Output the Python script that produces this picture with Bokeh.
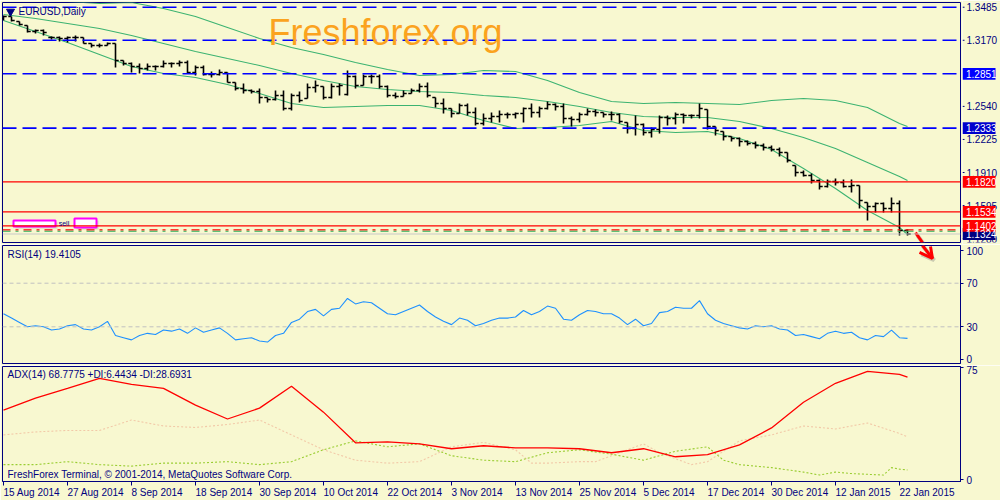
from bokeh.plotting import figure
from bokeh.layouts import column, row
from bokeh.models import (Range1d, FixedTicker, PrintfTickFormatter, Label,
                          ColumnDataSource, Span)
from bokeh.embed import file_html
from bokeh.resources import INLINE
from bokeh.core.properties import value

# ---------------- data ----------------
bar_high = [1.3406,1.3397,1.3349,1.3311,1.3273,1.3273,1.3206,1.3206,1.3206,1.3215,
            1.3196,1.3139,1.3139,1.3149,1.3139,1.2977,1.2958,1.2949,1.2949,1.2930,
            1.2977,1.2958,1.2977,1.2977,1.2930,1.2930,1.2872,1.2891,1.2863,1.2768,
            1.2758,1.2701,1.2710,1.2625,1.2691,1.2691,1.2663,1.2682,1.2758,1.2787,
            1.2729,1.2758,1.2758,1.2882,1.2834,1.2844,1.2844,1.2844,1.2739,1.2672,
            1.2691,1.2710,1.2758,1.2768,1.2625,1.2615,1.2520,1.2567,1.2567,1.2529,
            1.2472,1.2482,1.2501,1.2482,1.2482,1.2529,1.2567,1.2539,1.2586,1.2567,
            1.2567,1.2444,1.2482,1.2520,1.2510,1.2482,1.2491,1.2472,1.2386,1.2453,
            1.2377,1.2339,1.2453,1.2453,1.2482,1.2472,1.2463,1.2567,1.2510,1.2348,
            1.2301,1.2253,1.2243,1.2215,1.2205,1.2186,1.2167,1.2148,1.2100,1.1977,
            1.1929,1.1900,1.1843,1.1843,1.1853,1.1843,1.1843,1.1786,1.1624,1.1624,
            1.1624,1.1672,1.1643,1.1367]
bar_low = [1.3358,1.3349,1.3311,1.3244,1.3235,1.3215,1.3177,1.3158,1.3149,1.3158,
           1.3139,1.3101,1.3101,1.3120,1.2910,1.2930,1.2863,1.2853,1.2882,1.2882,
           1.2910,1.2910,1.2920,1.2853,1.2834,1.2834,1.2815,1.2834,1.2768,1.2691,
           1.2663,1.2663,1.2567,1.2577,1.2596,1.2501,1.2501,1.2577,1.2615,1.2672,
           1.2606,1.2615,1.2644,1.2644,1.2710,1.2739,1.2758,1.2710,1.2625,1.2615,
           1.2634,1.2663,1.2672,1.2625,1.2529,1.2472,1.2434,1.2472,1.2453,1.2358,
           1.2358,1.2386,1.2386,1.2424,1.2424,1.2386,1.2434,1.2434,1.2510,1.2501,
           1.2377,1.2348,1.2386,1.2453,1.2444,1.2434,1.2405,1.2377,1.2282,1.2262,
           1.2262,1.2243,1.2282,1.2358,1.2367,1.2377,1.2424,1.2424,1.2320,1.2262,
           1.2215,1.2205,1.2158,1.2167,1.2139,1.2120,1.2110,1.2062,1.2005,1.1872,
           1.1872,1.1805,1.1748,1.1767,1.1786,1.1767,1.1719,1.1567,1.1452,1.1529,
           1.1529,1.1529,1.1309,1.1309]
bar_open = [1.3377,1.3397,1.3349,1.3311,1.3254,1.3263,1.3196,1.3196,1.3187,1.3196,
            1.3196,1.3139,1.3120,1.3120,1.3139,1.2977,1.2949,1.2920,1.2901,1.2920,
            1.2920,1.2949,1.2949,1.2958,1.2863,1.2910,1.2844,1.2844,1.2863,1.2768,
            1.2710,1.2691,1.2682,1.2625,1.2606,1.2644,1.2520,1.2644,1.2615,1.2720,
            1.2729,1.2625,1.2729,1.2653,1.2825,1.2739,1.2825,1.2825,1.2729,1.2644,
            1.2634,1.2663,1.2691,1.2729,1.2625,1.2567,1.2520,1.2472,1.2548,1.2482,
            1.2377,1.2424,1.2444,1.2463,1.2463,1.2472,1.2520,1.2482,1.2520,1.2558,
            1.2539,1.2424,1.2415,1.2463,1.2491,1.2482,1.2463,1.2463,1.2386,1.2329,
            1.2367,1.2291,1.2320,1.2434,1.2424,1.2463,1.2453,1.2453,1.2510,1.2348,
            1.2301,1.2253,1.2234,1.2205,1.2186,1.2167,1.2148,1.2129,1.2100,1.1977,
            1.1910,1.1881,1.1834,1.1776,1.1824,1.1815,1.1776,1.1786,1.1624,1.1586,
            1.1614,1.1567,1.1614,1.1357]
bar_close = [1.3397,1.3358,1.3320,1.3254,1.3263,1.3244,1.3196,1.3187,1.3196,1.3196,
             1.3139,1.3120,1.3120,1.3139,1.2977,1.2949,1.2920,1.2901,1.2920,1.2920,
             1.2949,1.2949,1.2958,1.2863,1.2910,1.2844,1.2844,1.2863,1.2768,1.2710,
             1.2691,1.2682,1.2625,1.2606,1.2644,1.2520,1.2644,1.2596,1.2720,1.2739,
             1.2625,1.2729,1.2739,1.2825,1.2739,1.2825,1.2825,1.2729,1.2644,1.2634,
             1.2663,1.2691,1.2729,1.2644,1.2567,1.2520,1.2472,1.2548,1.2482,1.2377,
             1.2424,1.2444,1.2463,1.2463,1.2472,1.2520,1.2482,1.2520,1.2558,1.2539,
             1.2424,1.2415,1.2463,1.2491,1.2482,1.2463,1.2463,1.2396,1.2329,1.2367,
             1.2291,1.2320,1.2434,1.2424,1.2463,1.2453,1.2453,1.2520,1.2348,1.2310,
             1.2253,1.2234,1.2205,1.2186,1.2167,1.2148,1.2129,1.2100,1.2024,1.1910,
             1.1881,1.1834,1.1776,1.1824,1.1815,1.1776,1.1786,1.1643,1.1586,1.1614,
             1.1567,1.1614,1.1357,1.1324]
bar_idx = list(range(len(bar_close)))

band_idx = [0,4,8,12,16,20,24,28,32,36,40,44,48,52,56,60,64,68,72,76,80,84,88,92,96,100,104,108,112,113]
bb_upper = [1.3606,1.3578,1.3539,1.3520,1.3530,1.3473,1.3397,1.3292,1.3187,1.3101,
            1.3034,1.2958,1.2891,1.2834,1.2844,1.2882,1.2872,1.2787,1.2672,1.2586,
            1.2567,1.2577,1.2567,1.2558,1.2596,1.2615,1.2596,1.2529,1.2377,1.2348]
bb_middle = [1.3416,1.3377,1.3330,1.3282,1.3215,1.3139,1.3063,1.2996,1.2930,1.2853,
             1.2787,1.2729,1.2701,1.2682,1.2672,1.2644,1.2625,1.2586,1.2539,1.2482,
             1.2444,1.2434,1.2434,1.2396,1.2329,1.2243,1.2139,1.2005,1.1872,1.1834]
bb_lower = [1.3358,1.3254,1.3149,1.3034,1.2920,1.2853,1.2815,1.2748,1.2663,1.2567,
            1.2529,1.2539,1.2548,1.2548,1.2501,1.2405,1.2329,1.2339,1.2358,1.2396,
            1.2310,1.2291,1.2301,1.2234,1.2129,1.1948,1.1758,1.1548,1.1386,1.1319]

rsi_values = [42,38,34,30,31,30,27,28,31,32, 28,27,30,35,22,20,18,22,24,23,
              27,26,28,24,29,25,27,29,24,18, 19,20,17,16,22,24,34,37,44,46,
              40,46,47,56,51,53,52,47,42,41, 44,47,50,44,39,35,32,38,36,31,
              33,36,38,38,39,45,41,44,49,47, 37,36,41,45,44,42,42,38,32,37,
              31,33,43,44,48,47,47,54,42,36, 33,31,29,28,31,30,31,28,27,22,
              23,21,19,24,26,24,25,20,18,22, 21,27,20,19.41]

adx_idx = band_idx
adx_values = [46.7,54.7,61.3,68,64,61.3,50,40.7,48,62.7,45.3,24.7,25.3,24,20.7,
              22.7,21.3,21.3,20.7,18,20.7,15.3,16.7,23.3,34.7,52,64.7,72.7,70.7,68.78]
pdi_idx = [0,4,8,12,16,20,24,28,32,36,40,44,48,52,56,60,64,68,72,76,80,84,88,90,92,
           96,100,102,104,106,108,110,111,112,113]
pdi_values = [10,10,12,10,9,11,11,12,10,12,20,26,22,24,16,13,12,18,20,17,13,19,22,13,10,
              8,5,3,5,4,3.5,3,8,7,6.44]
mdi_idx = [0,4,8,12,16,20,24,28,32,36,40,44,48,52,56,60,64,66,68,72,74,76,80,82,84,86,
           88,92,96,100,104,108,112,113]
mdi_values = [30,32,33,33,40,36,35,37,40,30,20,13,11,12,22,25,20,11,11,12,12,16,24,18,14,10,
              12,26,30,36,34,38,31,28.69]

date_ticks = [0,8,16,24,32,40,48,56,64,72,80,88,96,104,112]
date_labels = ["15 Aug 2014","27 Aug 2014","8 Sep 2014","18 Sep 2014","30 Sep 2014",
               "10 Oct 2014","22 Oct 2014","3 Nov 2014","13 Nov 2014","25 Nov 2014",
               "5 Dec 2014","17 Dec 2014","30 Dec 2014","12 Jan 2015","22 Jan 2015"]

blue_levels = [1.3485, 1.3170, 1.2851, 1.2333]
red_levels = [1.1820, 1.1534, 1.1402]
sell_level = 1.1357
bid_price = 1.1324
price_ticks = [1.3485, 1.3170, 1.2540, 1.2225, 1.1910, 1.1595, 1.1280]
boxed_prices = [1.2851, 1.2333, 1.1820, 1.1534, 1.1324, 1.1402]
boxed_colors = ["#0000FF", "#0000CD", "#FF0000", "#FF0000", "#000080", "#FF0000"]
rsi_ticks = [0, 30, 70, 100]
rsi_levels = [30, 70]
adx_ticks = [0, 75]

# ---------------- style ----------------
BG = "#F8F8D0"
NAVY = "#000080"
FONT = "Liberation Sans"
xr = Range1d(-0.125, 119.625)


def base(w, h, yr, top, bottom, right, xloc=None, yloc="right", xrange=xr):
    p = figure(width=w, height=h, x_range=xrange, y_range=yr, output_backend="svg",
               toolbar_location=None, tools="", min_border_left=2, min_border_right=right,
               min_border_top=top, min_border_bottom=bottom,
               background_fill_color=BG, border_fill_color=BG,
               outline_line_color=NAVY, outline_line_width=1,
               y_axis_location=yloc, x_axis_location=xloc)
    p.grid.visible = False
    return p


def style_right_axis(p, ticks):
    ax = p.yaxis[0]
    ax.ticker = FixedTicker(ticks=ticks)
    ax.formatter = PrintfTickFormatter(format="%d")
    ax.axis_line_color = NAVY
    ax.major_tick_line_color = NAVY
    ax.minor_tick_line_color = None
    ax.major_tick_out = 3
    ax.major_tick_in = 0
    ax.major_label_standoff = 3
    ax.major_label_text_color = NAVY
    ax.major_label_text_font = FONT
    ax.major_label_text_font_size = "10px"


def txt(p, x, y, s, size="10px", color=NAVY, align="left", baseline="middle"):
    p.add_layout(Label(x=x, y=y, text=s, text_font=FONT, text_font_size=size,
                       text_color=color, text_align=align, text_baseline=baseline))

# ---------------- main price panel ----------------
price_range = Range1d(1.1243, 1.3530)
p1 = base(962, 244, price_range, 2, 2, 2, yloc=None)

for lv in blue_levels:
    p1.add_layout(Span(location=lv, dimension="width", line_color="#0000FF",
                       line_dash="14 6", line_width=1.6))
for lv in red_levels:
    p1.add_layout(Span(location=lv, dimension="width", line_color="#FF0000", line_width=1.3))
p1.add_layout(Span(location=sell_level + 0.0007, dimension="width", line_color="#FF0000",
                   line_dash="8 5 3 5", line_width=1.3))
p1.add_layout(Span(location=sell_level - 0.0007, dimension="width", line_color="#2EAF5A",
                   line_dash="8 5 3 5", line_width=1.2))
p1.add_layout(Span(location=bid_price, dimension="width", line_color="#C8C8C8", line_width=1))

bands = ColumnDataSource(dict(i=band_idx, u=bb_upper, m=bb_middle, l=bb_lower))
for col in ("u", "m", "l"):
    p1.line("i", col, source=bands, line_color="#3CB371", line_width=1.1)

bars = ColumnDataSource(dict(i=bar_idx, h=bar_high, l=bar_low, o=bar_open, c=bar_close,
                             il=[v - 0.4 for v in bar_idx], ir=[v + 0.4 for v in bar_idx]))
p1.segment(x0="i", y0="l", x1="i", y1="h", source=bars, line_color="black", line_width=1.6)
p1.segment(x0="il", y0="o", x1="i", y1="o", source=bars, line_color="black", line_width=1.6)
p1.segment(x0="i", y0="c", x1="ir", y1="c", source=bars, line_color="black", line_width=1.6)

# sell order tags at the left
p1.quad(left=[1.5, 9.125], right=[6.75, 11.875], top=[1.1433, 1.1452], bottom=[1.1376, 1.1367],
        fill_color="#999999", fill_alpha=0.35, line_color=None)
p1.quad(left=[1.25, 8.875], right=[6.5, 11.625], top=[1.1452, 1.1471], bottom=[1.1395, 1.1386],
        fill_color="white", line_color="#FF00FF", line_width=2)
txt(p1, 6.9, 1.1424, "sell", size="7px")

# arrow (upper part)
p1.line([114.25, 115.3], [1.1310, 1.1200], line_color="#777777", line_alpha=0.35, line_width=4)
p1.line([114.0, 114.875], [1.1338, 1.1243], line_color="#FF0000", line_width=3)

p1.scatter([0.875], [1.3444], marker="inverted_triangle", size=8, color=NAVY)
txt(p1, 1.875, 1.3444, "EURUSD,Daily")
txt(p1, 33.125, 1.3244, "Freshforex.org", size="36px", color="#FBA31E")

# price scale strip (right of the main panel)
p1r = figure(width=38, height=244, x_range=Range1d(0, 38), y_range=price_range,
             output_backend="svg", toolbar_location=None, tools="",
             min_border_left=0, min_border_right=0, min_border_top=2, min_border_bottom=2,
             background_fill_color=BG, border_fill_color=BG, outline_line_color=None,
             x_axis_location=None, y_axis_location=None)
p1r.grid.visible = False
tsrc = ColumnDataSource(dict(y=price_ticks, t=["%.4f" % v for v in price_ticks]))
p1r.segment(x0=0, y0="y", x1=2, y1="y", source=tsrc, line_color=NAVY, line_width=1)
p1r.text(x=4, y="y", text="t", source=tsrc, text_font=value(FONT),
         text_font_size=value("10px"), text_color=NAVY, text_baseline="middle")
bsrc = ColumnDataSource(dict(y=boxed_prices, c=boxed_colors,
                             top=[v + 0.0056 for v in boxed_prices],
                             bot=[v - 0.0056 for v in boxed_prices],
                             t=["%.4f" % v for v in boxed_prices]))
p1r.quad(left=0, right=33, top="top", bottom="bot", source=bsrc, fill_color="c", line_color=None)
p1r.text(x=3.5, y="y", text="t", source=bsrc, text_font=value(FONT),
         text_font_size=value("10px"), text_color="white", text_baseline="middle")

# ---------------- RSI panel ----------------
p2 = base(1000, 121, Range1d(-3.67, 104.59), 1, 2, 40)
style_right_axis(p2, rsi_ticks)
for lv in rsi_levels:
    p2.add_layout(Span(location=lv, dimension="width", line_color="#C0C0C0",
                       line_dash="4 3", line_width=1))
p2.line(bar_idx, rsi_values, line_color="#1E90FF", line_width=1.1)
txt(p2, 0.5, 96.3, "RSI(14) 19.4105")
p2.line([114.85, 116.35, 114.75], [104.6, 91.0, 96.5], line_color="#777777", line_alpha=0.35,
        line_width=4)
p2.line([114.875, 116.125], [104.6, 92.7], line_color="#FF0000", line_width=3)
p2.line([114.5, 116.125, 115.875], [98.2, 92.7, 103.7], line_color="#FF0000", line_width=3)

# ---------------- ADX panel ----------------
p3 = base(1000, 141, Range1d(-1.333, 76), 1, 24, 40, xloc="below")
style_right_axis(p3, adx_ticks)
xa = p3.xaxis[0]
xa.ticker = FixedTicker(ticks=date_ticks)
xa.major_label_overrides = dict(zip(date_ticks, date_labels))
xa.major_label_orientation = -0.0001
xa.axis_line_color = NAVY
xa.major_tick_line_color = NAVY
xa.minor_tick_line_color = None
xa.major_tick_out = 4
xa.major_tick_in = 0
xa.major_label_standoff = 7
xa.major_label_text_color = NAVY
xa.major_label_text_font = FONT
xa.major_label_text_font_size = "10px"

p3.line(mdi_idx, mdi_values, line_color="#F2C9A8", line_dash="2 2", line_width=1.1)
p3.line(pdi_idx, pdi_values, line_color="#9ACD32", line_dash="2 2", line_width=1.1)
p3.line(adx_idx, adx_values, line_color="#FF0000", line_width=1.3)
txt(p3, 0.5, 70.3, "ADX(14) 68.7775 +DI:6.4434 -DI:28.6931")
txt(p3, 0.5, 3.3, "FreshForex Terminal, \u00a9 2001-2014, MetaQuotes Software Corp.")

layout = column(row(p1, p1r, spacing=0), p2, p3, spacing=0)
html = file_html(layout, INLINE, title="EURUSD Daily")
html = html.replace("<head>", "<head><style>html,body{margin:0;padding:0;overflow:hidden;}</style>", 1)
open("out.html", "w").write(html)
